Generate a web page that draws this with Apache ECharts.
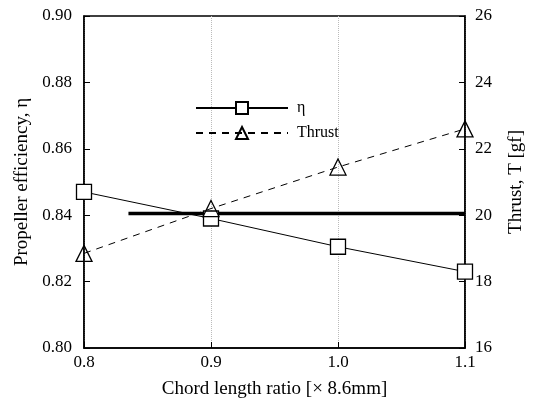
<!DOCTYPE html>
<html>
<head>
<meta charset="utf-8">
<script src="https://cdn.jsdelivr.net/npm/echarts@6/dist/echarts.min.js"></script>
<style>
    html, body { margin: 0; padding: 0; background: #fff; }
    #chart { width: 538px; height: 406px; }
</style>
</head>
<body>
<div id="chart"></div>
<script>
// chord length ratio
var chordRatio = [0.8, 0.9, 1.0, 1.1];
// propeller efficiency (left axis)
var etaValues = [0.847, 0.839, 0.8305, 0.823];
// thrust in gf (right axis)
var thrustValues = [18.85, 20.2, 21.45, 22.6];
// required thrust line (right axis)
var limitX = [0.835, 1.1];
var limitThrust = [20.05, 20.05];

var serif = 'Liberation Serif';

function pairs(xs, ys) {
    return xs.map(function (x, i) { return [x, ys[i]]; });
}

var chart = echarts.init(document.getElementById('chart'));
var option = {
    animation: false,
    backgroundColor: '#fff',
    textStyle: { fontFamily: serif, color: '#000' },
    grid: {
        left: 84, right: 73, top: 16, bottom: 58,
        outerBoundsMode: 'none',
        containLabel: false,
        show: true, borderColor: '#000', borderWidth: 1.5
    },
    legend: {
        left: 190,
        top: 95,
        orient: 'vertical',
        itemWidth: 92,
        itemHeight: 15,
        itemGap: 9,
        textStyle: { fontFamily: serif, fontSize: 16, color: '#000', padding: [0, 0, 0, 4] },
        data: ['η', 'Thrust']
    },
    xAxis: {
        type: 'value',
        min: 0.8,
        max: 1.1,
        interval: 0.1,
        name: 'Chord length ratio [× 8.6mm]',
        nameLocation: 'middle',
        nameGap: 32,
        nameTextStyle: { fontFamily: serif, fontSize: 19, color: '#000' },
        axisLine: { onZero: false, lineStyle: { color: '#000', width: 1.5 } },
        axisTick: { inside: true, length: 6, lineStyle: { color: '#000' } },
        axisLabel: {
            fontFamily: serif, fontSize: 17, color: '#000', margin: 6,
            formatter: function (v) { return v.toFixed(1); }
        },
        splitLine: { show: true, lineStyle: { color: '#bbb', type: 'dotted' } }
    },
    yAxis: [
        {
            type: 'value',
            min: 0.8,
            max: 0.9,
            interval: 0.02,
            name: 'Propeller efficiency, η',
            nameLocation: 'middle',
            nameGap: 52,
            nameTextStyle: { fontFamily: serif, fontSize: 19, color: '#000' },
            axisLine: { show: true, lineStyle: { color: '#000', width: 1.5 } },
            axisTick: { inside: true, length: 6, lineStyle: { color: '#000' } },
            axisLabel: {
                fontFamily: serif, fontSize: 17, color: '#000', margin: 12,
                formatter: function (v) { return v.toFixed(2); }
            },
            splitLine: { show: false }
        },
        {
            type: 'value',
            min: 16,
            max: 26,
            interval: 2,
            position: 'right',
            name: 'Thrust, T [gf]',
            nameLocation: 'middle',
            nameGap: 42,
            nameTextStyle: { fontFamily: serif, fontSize: 19, color: '#000' },
            axisLine: { show: true, lineStyle: { color: '#000', width: 1.5 } },
            axisTick: { inside: true, length: 6, lineStyle: { color: '#000' } },
            axisLabel: { fontFamily: serif, fontSize: 17, color: '#000', margin: 10 },
            splitLine: { show: false }
        }
    ],
    series: [
        {
            name: 'limit',
            type: 'line',
            yAxisIndex: 1,
            symbol: 'none',
            silent: true,
            lineStyle: { color: '#000', width: 3.5 },
            data: pairs(limitX, limitThrust)
        },
        {
            name: 'η',
            type: 'line',
            yAxisIndex: 0,
            symbol: 'rect',
            symbolSize: 15,
            lineStyle: { color: '#000', width: 1 },
            itemStyle: { color: '#fff', borderColor: '#000', borderWidth: 1.3 },
            data: pairs(chordRatio, etaValues)
        },
        {
            name: 'Thrust',
            type: 'line',
            yAxisIndex: 1,
            symbol: 'triangle',
            symbolSize: 16,
            lineStyle: { color: '#000', width: 1, type: [7, 6] },
            itemStyle: { color: 'rgba(255,255,255,0)', borderColor: '#000', borderWidth: 1.3 },
            data: pairs(chordRatio, thrustValues)
        }
    ]
};
chart.setOption(option);
</script>
</body>
</html>
